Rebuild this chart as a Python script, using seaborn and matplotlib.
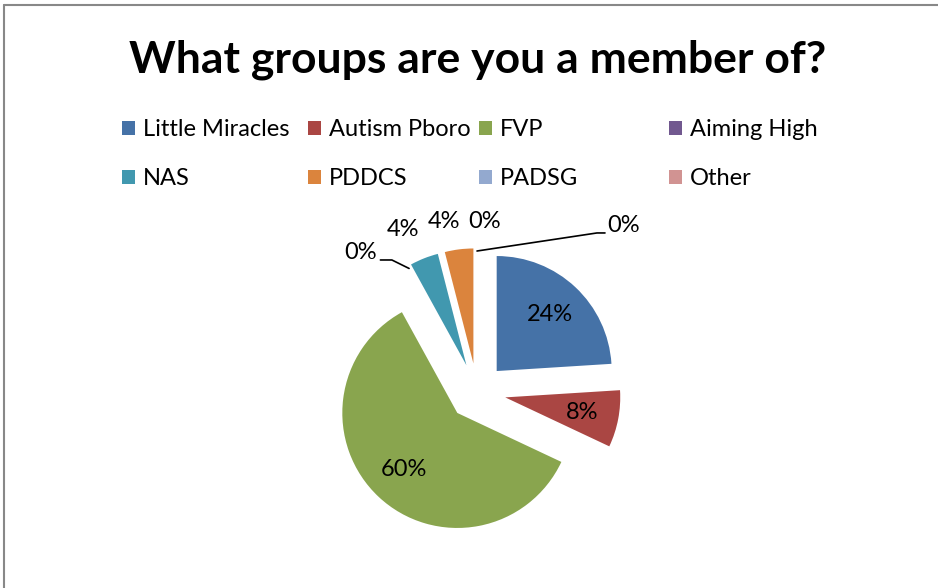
import numpy as np
import seaborn as sns
import matplotlib
import matplotlib.pyplot as plt

matplotlib.use('Agg')

# data
groups = ["Little Miracles", "Autism Pboro", "FVP", "Aiming High",
          "NAS", "PDDCS", "PADSG", "Other"]
shares = [24, 8, 60, 0, 4, 4, 0, 0]
colors = ["#4572A7", "#AA4643", "#89A54E", "#71588F",
          "#4198AF", "#DB843D", "#93A9CF", "#D19392"]

sns.set_style("white")
plt.rcParams['font.family'] = ['Lato', 'DejaVu Sans']
plt.rcParams['text.color'] = 'black'

W, H = 938, 588
fig = plt.figure(figsize=(W / 100, H / 100), dpi=100)

# pie axes over the whole figure; 1 data unit = 115 px, centre at (477, 392) px
scale = 115.0
cx, cy = 477.0, 392.0
ax = fig.add_axes([0, 0, 1, 1])

total = sum(shares)
explode = [0.25] * len(shares)
wedges, _ = ax.pie(shares, colors=colors, startangle=90, counterclock=False,
                   explode=explode, radius=1.0,
                   wedgeprops=dict(linewidth=0))
ax.set_xlim(-cx / scale, (W - cx) / scale)
ax.set_ylim(-(H - cy) / scale, cy / scale)
ax.set_aspect('auto')
ax.axis('off')


def ang(idx):
    before = sum(shares[:idx])
    return np.deg2rad(90.0 - 360.0 * (before + shares[idx] / 2) / total)


# percentage labels inside the big slices
for i, v in enumerate(shares):
    if v >= 8:
        a = ang(i)
        d = explode[i] + 0.68
        ax.text(d * np.cos(a), d * np.sin(a), f"{v:.0f}%",
                ha='center', va='center', fontsize=17)

# outside labels for the small slices
outside_pos = {4: (-0.64, 1.41), 5: (-0.29, 1.48), 6: (0.07, 1.48)}
for idx, (tx, ty) in outside_pos.items():
    ax.text(tx, ty, f"{shares[idx]:.0f}%", ha='center', va='center',
            fontsize=17)

# Aiming High (0%) with a leader line
a = ang(3)
r0 = 1.226
ax.plot([r0 * np.cos(a), -0.74, -0.84], [r0 * np.sin(a), 1.148, 1.148],
        color='black', lw=1.2)
ax.text(-0.87, 1.215, f"{shares[3]:.0f}%", ha='right', va='center',
        fontsize=17)

# Other (0%) with a leader line
a = ang(7)
ax.plot([r0 * np.cos(a), 1.043, 1.113], [r0 * np.sin(a), 1.383, 1.383],
        color='black', lw=1.2)
ax.text(1.13, 1.45, f"{shares[7]:.0f}%", ha='left', va='center',
        fontsize=17)

# title
fig.text(478 / W, 1 - 60 / H, "What groups are you a member of?",
         ha='center', va='center', fontsize=32, fontweight='bold')

# legend, four columns of two rows
col_x = [122, 308, 479, 669]
for c in range(4):
    hs = [wedges[c], wedges[c + 4]]
    ls = [groups[c], groups[c + 4]]
    fig.legend(hs, ls, loc='upper left',
               bbox_to_anchor=(col_x[c] / W, 1 - 119 / H),
               frameon=False, fontsize=17, handlelength=0.55,
               handleheight=0.55, handletextpad=0.35,
               labelspacing=1.2, borderpad=0, borderaxespad=0)

# border (top and left only, as cropped in the reference)
fig.add_artist(plt.Line2D([4 / W, 1], [1 - 5 / H, 1 - 5 / H],
                          color='#888888', lw=1.5, transform=fig.transFigure))
fig.add_artist(plt.Line2D([4 / W, 4 / W], [0, 1 - 5 / H],
                          color='#888888', lw=1.5, transform=fig.transFigure))

fig.savefig("out.png", dpi=100)
